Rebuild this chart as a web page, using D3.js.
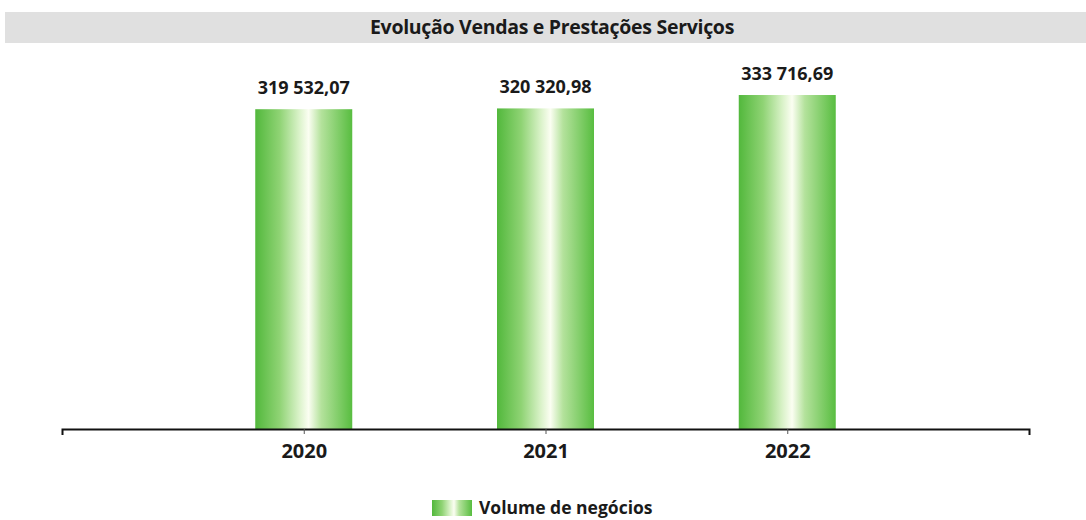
<!DOCTYPE html>
<html>
<head>
<meta charset="utf-8">
<script src="https://cdn.jsdelivr.net/npm/d3@7"></script>
<style>
  body { margin: 0; background: #fff; }
  svg { display: block; }
</style>
</head>
<body>
<div id="myChart"></div>
<script>
var title = "Evolução Vendas e Prestações Serviços";
var seriesName = "Volume de negócios";
var years = ["2020", "2021", "2022"];
var values = [319532.07, 320320.98, 333716.69];
var valueLabels = ["319 532,07", "320 320,98", "333 716,69"];

var w = 1086;
var h = 520;
var barWidth = 97;
var baseY = 429;

var svg = d3.select("#myChart")
            .append("svg")
            .attr("width", w)
            .attr("height", h)
            .attr("id", "chart");

// gradient for the bars (green edges, white shine a bit right of centre)
var defs = svg.append("defs");
var grad = defs.append("linearGradient")
    .attr("id", "barGrad")
    .attr("x1", "0%").attr("x2", "100%")
    .attr("y1", "0%").attr("y2", "0%");
grad.append("stop").attr("offset", "0%").attr("stop-color", "#52b83c");
grad.append("stop").attr("offset", "25%").attr("stop-color", "#8fd374");
grad.append("stop").attr("offset", "45%").attr("stop-color", "#d9f2c8");
grad.append("stop").attr("offset", "55%").attr("stop-color", "#fbfef2");
grad.append("stop").attr("offset", "68%").attr("stop-color", "#b4e29c");
grad.append("stop").attr("offset", "100%").attr("stop-color", "#58bd40");

// title band
svg.append("rect")
    .attr("x", 5)
    .attr("y", 12)
    .attr("width", w - 5)
    .attr("height", 31)
    .attr("fill", "#e0e0e0");

svg.append("text")
    .text(title)
    .attr("x", 552)
    .attr("y", 34)
    .attr("font-family", "'Open Sans', sans-serif")
    .attr("font-weight", "bold")
    .attr("font-size", "19.5px")
    .attr("letter-spacing", "-0.3px")
    .attr("fill", "#1a1a1a")
    .attr("text-anchor", "middle");

var x = d3.scalePoint()
    .domain(years)
    .range([62, 1029])
    .padding(1);

var y = d3.scaleLinear()
    .domain([0, 368700])
    .range([baseY, 60]);

svg.selectAll("rect.bar")
    .data(values)
    .enter()
    .append("rect")
    .attr("class", "bar")
    .attr("x", function(d, i) { return x(years[i]) - barWidth / 2; })
    .attr("y", function(d) { return y(d); })
    .attr("width", barWidth)
    .attr("height", function(d) { return baseY - y(d); })
    .attr("fill", "url(#barGrad)");

svg.selectAll("text.val")
    .data(values)
    .enter()
    .append("text")
    .attr("class", "val")
    .text(function(d, i) { return valueLabels[i]; })
    .attr("x", function(d, i) { return x(years[i]); })
    .attr("y", function(d) { return y(d) - 15; })
    .attr("font-family", "'Open Sans', sans-serif")
    .attr("font-weight", "bold")
    .attr("font-size", "18px")
    .attr("fill", "#1a1a1a")
    .attr("text-anchor", "middle");

var axis = svg.append("g")
    .attr("transform", "translate(0," + baseY + ")")
    .call(d3.axisBottom(x).tickSizeInner(5).tickSizeOuter(6).tickPadding(10));

axis.select(".domain")
    .attr("stroke", "#111")
    .attr("stroke-width", 2);
axis.selectAll(".tick line")
    .attr("stroke", "#555");
axis.selectAll(".tick text")
    .attr("font-family", "'Open Sans', sans-serif")
    .attr("font-weight", "bold")
    .attr("font-size", "20px")
    .attr("fill", "#1a1a1a");

// legend
var legend = svg.append("g")
    .attr("transform", "translate(432,500)");
legend.append("rect")
    .attr("width", 40)
    .attr("height", 16)
    .attr("fill", "url(#barGrad)");
legend.append("text")
    .text(seriesName)
    .attr("x", 47)
    .attr("y", 14)
    .attr("font-family", "'Open Sans', sans-serif")
    .attr("font-weight", "bold")
    .attr("font-size", "17.5px")
    .attr("fill", "#1a1a1a");
</script>
</body>
</html>
